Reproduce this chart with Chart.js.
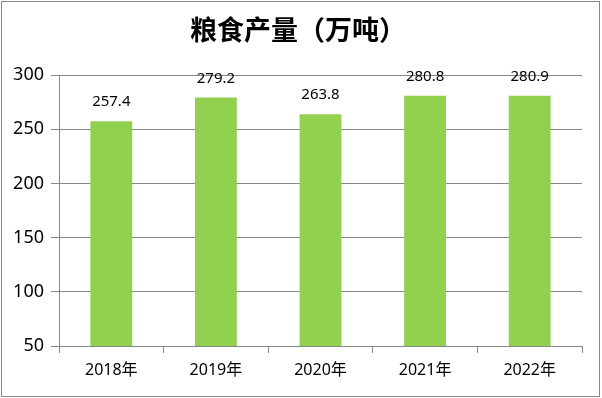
<!DOCTYPE html>
<html>
<head>
<meta charset="utf-8">
<script src="https://cdn.jsdelivr.net/npm/chart.js@4"></script>
<style>
  body { margin: 0; background: #fff; }
  #wrap { width: 602px; height: 398px; }
</style>
</head>
<body>
<div id="wrap"><canvas id="grainChart" width="602" height="398"></canvas></div>
<script>
const years = ["2018年", "2019年", "2020年", "2021年", "2022年"];
const output = [257.4, 279.2, 263.8, 280.8, 280.9];
const yMin = 50;
const yMax = 300;
const yStep = 50;
const chartTitle = "粮食产量（万吨）";

const lineColor = "#878787";
const barColor = "#92D050";
const numFont = "'Noto Sans', 'Noto Sans CJK SC', sans-serif";

// frame, title and value labels
const extras = {
  id: "extras",
  beforeDraw(chart) {
    const c = chart.ctx;
    c.save();
    c.fillStyle = "#fff";
    c.fillRect(0, 0, chart.width, chart.height);
    c.strokeStyle = lineColor;
    c.lineWidth = 1;
    c.strokeRect(1.5, 1.5, 598, 395);
    c.restore();
  },
  afterDatasetsDraw(chart) {
    const c = chart.ctx;
    c.save();
    c.fillStyle = "#000";
    c.font = "bold 27px 'Noto Sans CJK SC', sans-serif";
    c.textAlign = "center";
    c.textBaseline = "middle";
    c.fillText(chartTitle, 298, 30);

    c.font = "15px " + numFont;
    c.textBaseline = "alphabetic";
    chart.getDatasetMeta(0).data.forEach((bar, i) => {
      c.fillText(output[i].toFixed(1), bar.x, bar.y - 15);
    });
    c.restore();
  },
};

const ctx = document.getElementById("grainChart").getContext("2d");
let grainChart = new Chart(ctx, {
  type: "bar",
  data: {
    labels: years,
    datasets: [
      {
        data: output,
        backgroundColor: barColor,
        barPercentage: 0.8,
        categoryPercentage: 0.5,
      },
    ],
  },
  options: {
    responsive: false,
    animation: false,
    layout: { padding: { top: 75, right: 20, bottom: 0, left: 0 } },
    plugins: {
      legend: { display: false },
      tooltip: { enabled: false },
    },
    scales: {
      x: {
        grid: {
          offset: true,
          drawOnChartArea: false,
          drawTicks: true,
          tickLength: 7,
          color: lineColor,
        },
        border: { color: lineColor },
        ticks: {
          color: "#000",
          padding: 8,
          font: { size: 16, family: numFont },
        },
        afterFit(scale) {
          scale.height = 52;
        },
      },
      y: {
        min: yMin,
        max: yMax,
        grid: { color: lineColor, tickLength: 8 },
        border: { color: lineColor },
        ticks: {
          stepSize: yStep,
          color: "#000",
          padding: 7,
          font: { size: 18, family: numFont },
        },
        afterFit(scale) {
          scale.width = 59;
        },
      },
    },
  },
  plugins: [extras],
});
</script>
</body>
</html>
